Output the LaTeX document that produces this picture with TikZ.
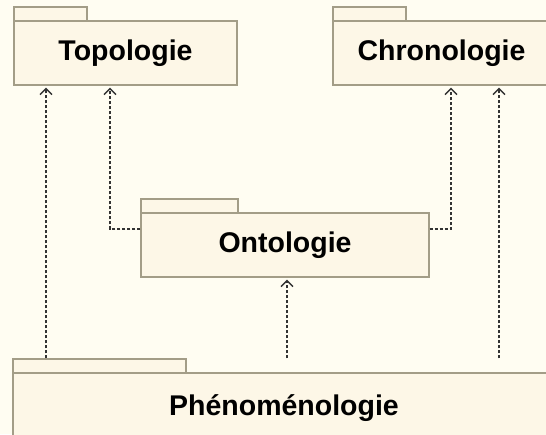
\documentclass[tikz,border=0pt]{standalone}
\usepackage{fontspec}
\setmainfont{Liberation Sans}
\usetikzlibrary{arrows.meta,calc}
\definecolor{bg}{HTML}{FFFDF2}
\definecolor{pkfill}{HTML}{FDF7E7}
\definecolor{pkline}{HTML}{A39D87}
\definecolor{depline}{HTML}{333333}

\begin{document}
\begin{tikzpicture}[x=1pt,y=-1pt,
  pkbody/.style={draw=pkline,fill=pkfill,line width=1.4pt,inner sep=0pt,
    font=\fontsize{28.5}{32}\selectfont\bfseries,text=black},
  pktab/.style={draw=pkline,fill=pkfill,line width=1.4pt,inner sep=0pt},
  dep/.style={draw=depline,line width=1.4pt,dash pattern=on 3pt off 2pt,
    shorten >=2pt,
    -{Straight Barb[length=6pt,width=12pt,line width=1.3pt]}}]

% canvas
\fill[bg] (0,0) rectangle (546,434);
\useasboundingbox (0,0) rectangle (546,434);
\clip (0,0) rectangle (546,434);

% packages: tab + body
\node[pktab,minimum width=73pt,minimum height=14pt] (topotab) at (50.5,14) {};
\node[pkbody,minimum width=223pt,minimum height=64pt] (topo) at (125.5,53) {Topologie};

\node[pktab,minimum width=73pt,minimum height=14pt] (chrontab) at (369.5,14) {};
\node[pkbody,minimum width=217pt,minimum height=64pt] (chron) at (441.5,53) {Chronologie};

\node[pktab,minimum width=97pt,minimum height=14pt] (ontotab) at (189.5,206) {};
\node[pkbody,minimum width=288pt,minimum height=64pt] (onto) at (285,245) {Ontologie};

\node[pktab,minimum width=173pt,minimum height=14pt] (phentab) at (99.5,366) {};
\node[pkbody,minimum width=542pt,minimum height=70pt] (phen) at (284,408) {Phénoménologie};

% dependency routing points
\coordinate (c1) at (46,0);
\coordinate (c2) at (110,229);
\coordinate (c3) at (451,229);
\coordinate (c4) at (499,0);
\coordinate (c5) at (287,0);

% dependencies
\draw[dep] (phentab.north -| c1) -- (topo.south -| c1);
\draw[dep] (onto.west |- c2) -- (c2) -- (topo.south -| c2);
\draw[dep] (onto.east |- c3) -- (c3) -- (chron.south -| c3);
\draw[dep] (phentab.north -| c4) -- (chron.south -| c4);
\draw[dep] (phentab.north -| c5) -- (onto.south -| c5);
\end{tikzpicture}
\end{document}
